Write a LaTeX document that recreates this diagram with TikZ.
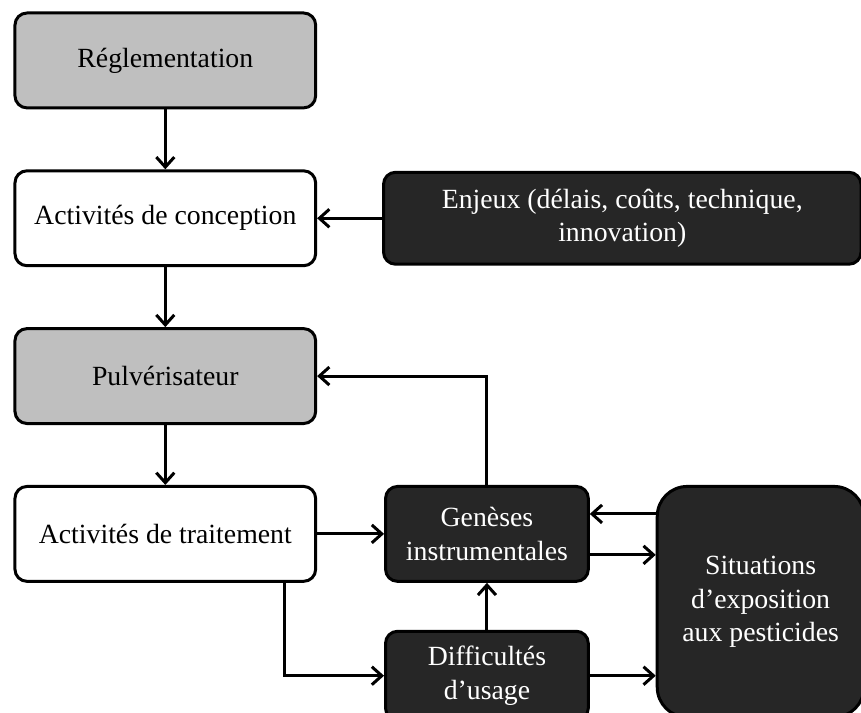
\documentclass[tikz,border=0pt]{standalone}
\usepackage{fontspec}
\setmainfont{Liberation Serif}
\usepackage{xcolor}
\usetikzlibrary{arrows.meta,positioning}
\definecolor{boxgrey}{HTML}{BFBFBF}
\definecolor{boxdark}{HTML}{262626}

\begin{document}
\begin{tikzpicture}[
  node distance=30pt,
  font=\fontsize{13.9}{16.8}\selectfont,
  box/.style={draw, line width=1.5pt, rounded corners=6pt, align=center,
              minimum width=150.5pt, minimum height=47.5pt, inner sep=0pt},
  greybox/.style={box, fill=boxgrey},
  whitebox/.style={box, fill=white},
  darkbox/.style={box, fill=boxdark, text=white},
  ar/.style={line width=1.5pt, -{Straight Barb[length=5pt,width=9pt]}}]

\useasboundingbox (-82.75pt,30.25pt) rectangle (348.25pt,-326.5pt);

\node[greybox] (regl) at (0,0) {Réglementation};
\node[whitebox, below=of regl] (conc) {Activités de conception};
\node[greybox, below=of conc] (pulv) {Pulvérisateur};
\node[whitebox, below=of pulv] (trait) {Activités de traitement};

\node[darkbox, right=32.5pt of conc, minimum width=239pt, minimum height=46pt] (enjeux)
  {Enjeux (délais, coûts, technique,\\innovation)};
\node[darkbox, right=33.5pt of trait, minimum width=101.5pt] (gen)
  {Genèses\\instrumentales};
\node[darkbox, below=23.5pt of gen, minimum width=101.5pt, minimum height=44.5pt] (diff)
  {Difficultés\\d’usage};
\node[darkbox, below right=0pt and 33pt of gen.north east, rounded corners=15pt,
      minimum width=103.5pt, minimum height=115.5pt] (sit)
  {Situations\\d’exposition\\aux pesticides};

\coordinate (g1) at ([yshift=10pt]gen.east);
\coordinate (g2) at ([yshift=-10.5pt]gen.east);
\coordinate (tr) at ([xshift=-16.5pt]trait.south east);

\draw[ar] (regl) -- (conc);
\draw[ar] (conc) -- (pulv);
\draw[ar] (pulv) -- (trait);
\draw[ar] (enjeux) -- (conc);
\draw[ar] (trait) -- (gen);
\draw[ar] (gen.north) |- (pulv.east);
\draw[ar] (diff) -- (gen);
\draw[ar] (sit.west |- g1) -- (g1);
\draw[ar] (g2) -- (sit.west |- g2);
\draw[ar] (diff.east) -- (sit.west |- diff.east);
\draw[ar] (tr) |- (diff.west);
\end{tikzpicture}
\end{document}
